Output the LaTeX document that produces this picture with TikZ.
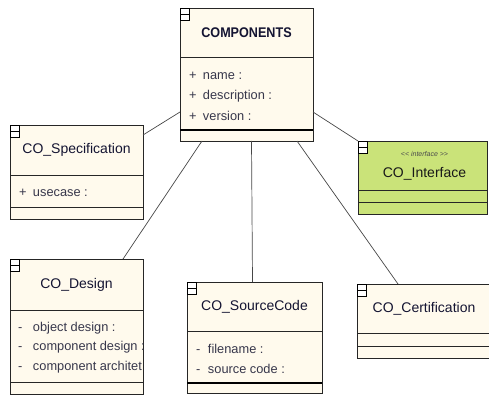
\documentclass[tikz,border=0pt]{standalone}
\usepackage{fontspec}
\setmainfont{Liberation Sans}
\usetikzlibrary{positioning,calc}

\definecolor{classfill}{RGB}{255,250,237}
\definecolor{ifacefill}{RGB}{202,227,121}
\definecolor{titleblue}{RGB}{20,20,50}
\definecolor{attrgray}{RGB}{55,55,75}
\definecolor{linkgray}{RGB}{70,70,70}

\tikzset{
  fold/.pic = {\draw[line width=0.6pt, fill=white] (0,0) rectangle (9,12);
    \draw[line width=0.6pt] (0,6) -- (9,6);}
}

\begin{document}
\begin{tikzpicture}[x=1pt, y=-1pt,
      every node/.style = {inner sep=0pt, outer sep=0pt},
      box/.style = {shape=rectangle, draw=black!85, line width=0.9pt, fill=classfill},
      head/.style = {box, anchor=north west, font=\fontsize{14}{16}\selectfont, text=titleblue},
      attr/.style = {anchor=west, font=\fontsize{12.8}{14}\selectfont, text=attrgray},
      link/.style = {draw=linkgray, line width=0.7pt}]
  \useasboundingbox (0,0) rectangle (489,395);

  % COMPONENTS
  \node[head, minimum width=133, minimum height=49] (comp) at (180,8)
    {\scalebox{0.9}[1]{\bfseries COMPONENTS}};
  \node[box, minimum width=133, minimum height=73, below=0pt of comp] (comp-attr) {};
  \node[box, minimum width=133, minimum height=11, below=0pt of comp-attr] (comp-ops) {};
  \draw[line width=2.4pt] (comp-ops.north west) -- (comp-ops.north east);
  \pic at (comp.north west) {fold};
  \begin{scope}
    \clip (comp-attr.north west) rectangle (comp-attr.south east);
    \foreach \a [count=\i from 0] in {name :, description :, version :}
      \node[attr] (comp-a\i) at ($(comp-attr.north west)+(9,19+20*\i)$) {\makebox[14pt][l]{+}\a};
  \end{scope}

  % CO_Specification
  \node[head, minimum width=133, minimum height=50] (spec) at (10,125) {CO\_Specification};
  \node[box, minimum width=133, minimum height=32, below=0pt of spec] (spec-attr) {};
  \node[box, minimum width=133, minimum height=12, below=0pt of spec-attr] (spec-ops) {};
  \pic at (spec.north west) {fold};
  \node[attr] (spec-a0) at ($(spec-attr.north west)+(9,18)$) {\makebox[14pt][l]{+}usecase :};

  % CO_Interface
  \node[head, fill=ifacefill, minimum width=129, minimum height=49] (ifc) at (358,141) {};
  \node[box, fill=ifacefill, minimum width=129, minimum height=12, below=0pt of ifc] (ifc-p1) {};
  \node[box, fill=ifacefill, minimum width=129, minimum height=12, below=0pt of ifc-p1] (ifc-p2) {};
  \pic at (ifc.north west) {fold};
  \node[font=\fontsize{7}{8}\selectfont\itshape, text=black!70] (ifc-st) at ($(ifc.north)+(2,13)$)
    {<{}< interface >{}>};
  \node[font=\fontsize{14}{16}\selectfont, text=black!90] (ifc-name) at ($(ifc.north)+(2,33)$)
    {CO\_Interface};

  % CO_Design
  \node[head, minimum width=133, minimum height=51] (des) at (10,259) {CO\_Design};
  \node[box, minimum width=133, minimum height=72, below=0pt of des] (des-attr) {};
  \node[box, minimum width=133, minimum height=12, below=0pt of des-attr] (des-ops) {};
  \pic at (des.north west) {fold};
  \begin{scope}
    \clip (des-attr.north west) rectangle (des-attr.south east);
    \foreach \a [count=\i from 0] in {object design :, component design :, component architet}
      \node[attr] (des-a\i) at ($(des-attr.north west)+(8,18+19.5*\i)$) {\makebox[15pt][l]{-}\a};
  \end{scope}

  % CO_SourceCode
  \node[head, minimum width=135, minimum height=49] (src) at (187,282) {CO\_SourceCode};
  \node[box, minimum width=135, minimum height=52, below=0pt of src] (src-attr) {};
  \node[box, minimum width=135, minimum height=10, below=0pt of src-attr] (src-ops) {};
  \draw[line width=2.4pt] (src-ops.north west) -- (src-ops.north east);
  \pic at (src.north west) {fold};
  \foreach \a [count=\i from 0] in {filename :, source code :}
    \node[attr] (src-a\i) at ($(src-attr.north west)+(9,18+20*\i)$) {\makebox[12pt][l]{-}\a};

  % CO_Certification
  \node[head, minimum width=134, minimum height=49] (cert) at (357,284) {CO\_Certification};
  \node[box, minimum width=134, minimum height=13, below=0pt of cert] (cert-p1) {};
  \node[box, minimum width=134, minimum height=12, below=0pt of cert-p1] (cert-p2) {};
  \pic at (cert.north west) {fold};

  % links
  \draw[link] ([yshift=-10pt]spec.north east) -- ([yshift=-55pt]comp-attr.north west);
  \draw[link] ([yshift=-55pt]comp-attr.north east) -- (ifc.north west);
  \draw[link] ([xshift=22pt]comp-ops.south west) -- ([xshift=-20pt]des.north east);
  \draw[link] ([xshift=5pt]comp-ops.south) -- ([xshift=-2pt]src.north);
  \draw[link] ([xshift=-16pt]comp-ops.south east) -- ([xshift=41pt]cert.north west);
\end{tikzpicture}
\end{document}
